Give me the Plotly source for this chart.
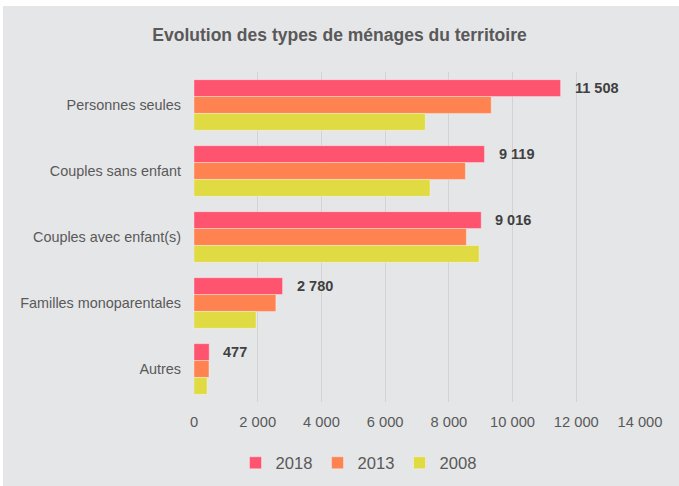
import plotly.graph_objects as go

categories = ["Personnes seules", "Couples sans enfant", "Couples avec enfant(s)",
              "Familles monoparentales", "Autres"]
years = ["2018", "2013", "2008"]
values_2018 = [11508, 9119, 9016, 2780, 477]
values_2013 = [9330, 8520, 8550, 2570, 470]
values_2008 = [7260, 7410, 8950, 1950, 410]
series = [values_2018, values_2013, values_2008]
colors = ["#FF5470", "#FF8350", "#E0DA43"]
x_ticks = [0, 2000, 4000, 6000, 8000, 10000, 12000, 14000]

FONT = "Liberation Sans, Arial, sans-serif"

fig = go.Figure()
for name, vals, col in zip(years, series, colors):
    fig.add_trace(go.Bar(
        y=categories, x=vals, name=name, orientation="h",
        marker=dict(color=col, line=dict(color="rgba(255,255,255,0.35)", width=1)),
        hoverinfo="x+name",
    ))

def fmt(v):
    return f"{v:,}".replace(",", " ")

annotations = []
for cat, v in zip(categories, values_2018):
    annotations.append(dict(
        x=v, y=cat, xref="x", yref="y", text=fmt(v), showarrow=False,
        xanchor="left", yanchor="middle", xshift=12, yshift=17,
        font=dict(family=FONT, size=14.5, color="#404040", weight="bold"),
    ))

# plot area geometry in px to place the background frame
W, H = 679, 486
L, R, T, B = 194, 39, 72, 84
pw, ph = W - L - R, H - T - B
shape = dict(type="rect", xref="paper", yref="paper", layer="below",
             x0=(3 - L) / pw, x1=(W - L) / pw,
             y0=-(H - T - ph) / ph - 0.01, y1=1 + (T - 6) / ph,
             fillcolor="#E5E6E8", line=dict(width=0))

fig.update_layout(
    width=W, height=H,
    margin=dict(l=L, r=R, t=T, b=B, autoexpand=False),
    paper_bgcolor="white", plot_bgcolor="#E5E6E8",
    barmode="group", bargap=0.232, bargroupgap=0,
    separators=", ",
    title=dict(text="Evolution des types de ménages du territoire",
               x=0.5, xref="container", xanchor="center",
               y=1 - 35 / H, yref="container", yanchor="middle",
               font=dict(family=FONT, size=17.5, color="#595959", weight="bold")),
    xaxis=dict(range=[0, 14000], tickvals=x_ticks,
               ticktext=[fmt(t) for t in x_ticks],
               showgrid=True, gridcolor="#D2D3D5", gridwidth=1,
               zeroline=False, showline=False, ticks="",
               ticklabelstandoff=9, automargin=False,
               tickfont=dict(family=FONT, size=14.7, color="#595959")),
    yaxis=dict(autorange="reversed", showgrid=False, zeroline=False,
               showline=False, ticks="", ticklabelstandoff=12, automargin=False,
               tickfont=dict(family=FONT, size=14.4, color="#595959")),
    legend=dict(orientation="h", xref="container", yref="container",
                x=0.528, xanchor="center", y=1 - 463 / H, yanchor="middle",
                font=dict(family=FONT, size=16.6, color="#595959"),
                bgcolor="rgba(0,0,0,0)", itemwidth=30, traceorder="normal",
                entrywidth=37),
    shapes=[shape],
    annotations=annotations,
)

fig.write_html("out.html", config={"displayModeBar": False},
               post_script="document.body.style.margin='0';document.body.style.overflow='hidden';")
